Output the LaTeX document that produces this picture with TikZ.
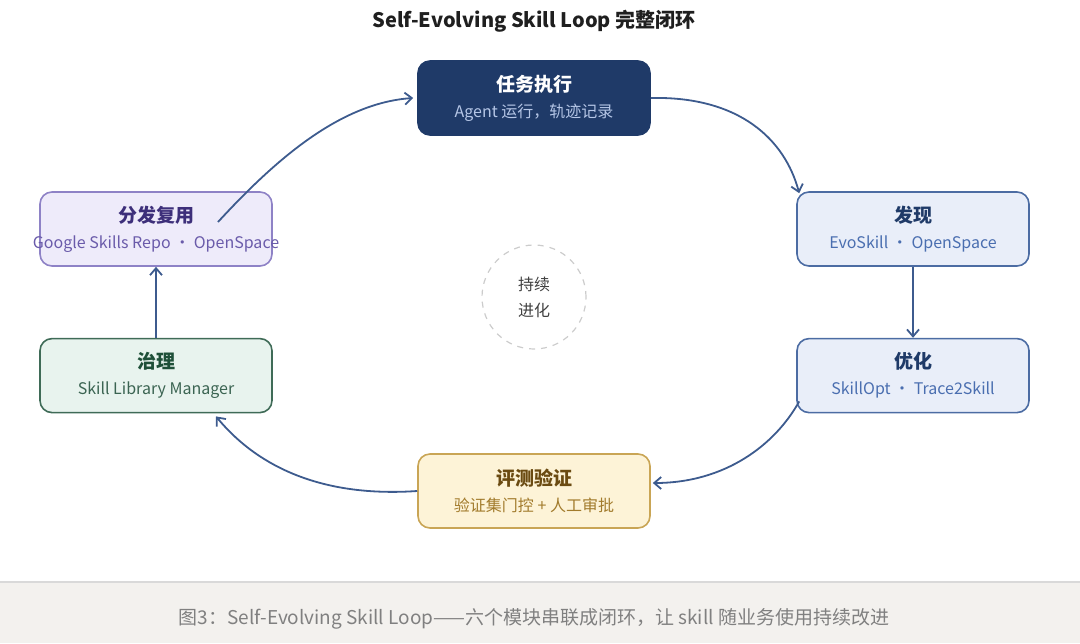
\documentclass[tikz,border=0pt]{standalone}
\usepackage{fontspec}
\setmainfont{Noto Sans CJK SC}
\usetikzlibrary{arrows.meta,positioning}
\definecolor{navy}{HTML}{1F3A68}
\definecolor{navysub}{HTML}{B5C6E6}
\definecolor{bluefill}{HTML}{E9EEF9}
\definecolor{blueline}{HTML}{4C6CA3}
\definecolor{bluetxt}{HTML}{4A6EB0}
\definecolor{purplefill}{HTML}{EEEBFA}
\definecolor{purpleline}{HTML}{8E82C6}
\definecolor{purpletitle}{HTML}{3D2F7A}
\definecolor{purpletxt}{HTML}{6A5BAA}
\definecolor{greenfill}{HTML}{E8F3EE}
\definecolor{greenline}{HTML}{3F6B57}
\definecolor{greentitle}{HTML}{1F5039}
\definecolor{greentxt}{HTML}{3B6452}
\definecolor{yellowfill}{HTML}{FDF3D7}
\definecolor{yellowline}{HTML}{C9A555}
\definecolor{yellowtitle}{HTML}{6B4B12}
\definecolor{yellowtxt}{HTML}{A27B2C}
\definecolor{arrowblue}{HTML}{3D5B8E}
\definecolor{footfill}{HTML}{F3F1EE}
\newcommand{\stagehead}{\bfseries\fontsize{9.5}{11}\selectfont}
\tikzset{
every picture/.style={
line width=0.8pt
}}
\tikzset{
  stage/.style={
    draw, rounded corners=6pt,
    minimum width=116pt, minimum height=37pt,
    align=center, inner sep=0pt,
    font=\fontsize{8}{13}\selectfont
  },
  flow/.style={
    draw=arrowblue, line width=0.9pt,
    -{Straight Barb[length=3.5pt,width=6pt]}
  }
}

\begin{document}
\begin{tikzpicture}[x=0.5pt,y=-0.5pt]
\useasboundingbox (0,0) rectangle (1080,643);

% footer band
\fill[footfill] (0,582) rectangle (1080,643);
\draw[line width=0.6pt, black!15] (0,582) -- (1080,582);
\node [text=black!50, font=\fontsize{9.5}{11}\selectfont] (cap) at (534,619)
  {图3：Self-Evolving Skill Loop——六个模块串联成闭环，让 skill 随业务使用持续改进};

\node [text=black!88, font=\bfseries\fontsize{10}{12}\selectfont] (head) at (534,21)
  {Self-Evolving Skill Loop 完整闭环};

% stages
\node [stage, fill=navy, draw=navy] (task) at (534,98)
  {{\stagehead\color{white}任务执行}\\{\color{navysub}Agent 运行，轨迹记录}};
\node [stage, fill=bluefill, draw=blueline] (disc) at (913,229)
  {{\stagehead\color{navy}发现}\\{\color{bluetxt}EvoSkill ・ OpenSpace}};
\node [stage, fill=bluefill, draw=blueline, below=35.5pt of disc] (opt)
  {{\stagehead\color{navy}优化}\\{\color{bluetxt}SkillOpt ・ Trace2Skill}};
\node [stage, fill=yellowfill, draw=yellowline] (eval) at (534,491)
  {{\stagehead\color{yellowtitle}评测验证}\\{\color{yellowtxt}验证集门控 + 人工审批}};
\node [stage, fill=purplefill, draw=purpleline] (share) at (156,229)
  {{\stagehead\color{purpletitle}分发复用}\\{\color{purpletxt}\makebox[100pt]{Google Skills Repo ・ OpenSpace}}};
\node [stage, fill=greenfill, draw=greenline, below=35.5pt of share] (gov)
  {{\stagehead\color{greentitle}治理}\\{\color{greentxt}Skill Library Manager}};

\node [circle, draw=black!20, dashed, line width=0.6pt, minimum size=52pt,
  align=center, text=black!75, font=\fontsize{8}{13}\selectfont] (core) at (534,297) {持续\\进化};

% connectors
\draw [flow] (task.east) .. controls (740,96) and (785,140) .. ([shift={(3,2)}]disc.north west);
\draw [flow] (disc) -- (opt);
\draw [flow] ([shift={(3,-12)}]opt.south west) .. controls (775,445) and (725,483) .. ([shift={(2,-8)}]eval.east);
\draw [flow] (eval.west) .. controls (330,497) and (262,472) .. ([shift={(60,3)}]gov.south);
\draw [flow] (gov) -- (share);
\draw [flow] ([shift={(62,-7)}]share.center) .. controls (275,160) and (340,103) .. ([xshift=-2]task.west);

\end{tikzpicture}
\end{document}
